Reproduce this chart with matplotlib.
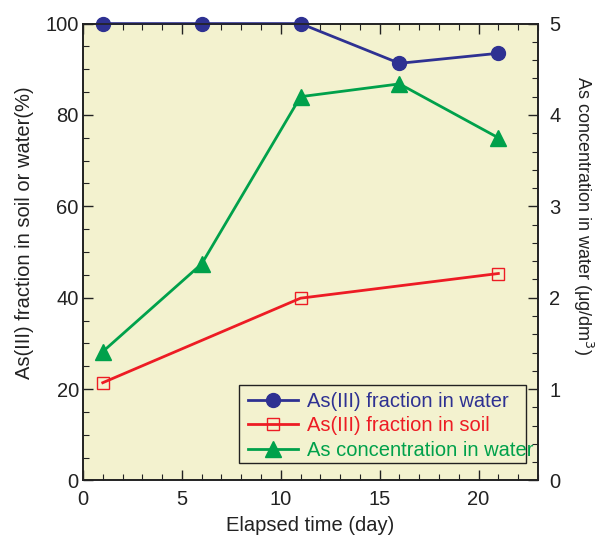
import matplotlib
matplotlib.use("Agg")
import matplotlib.pyplot as plt
from matplotlib.patches import Rectangle
from matplotlib.ticker import MultipleLocator

plt.rcParams['font.family'] = ['Liberation Sans', 'DejaVu Sans']

# data
days = [1, 6, 11, 16, 21]
water_fraction = [100, 100, 100, 91.3, 93.5]
soil_days = [1, 11, 21]
soil_fraction = [21.4, 39.9, 45.3]
concentration = [1.41, 2.37, 4.20, 4.34, 3.75]

blue = '#2e3192'
red = '#ed1c24'
green = '#00a14b'
bg = '#f3f2cf'
ink = '#222222'

fig = plt.figure(figsize=(5.97, 5.42), dpi=100)
ax = fig.add_axes([0.139, 0.1135, 0.762, 0.843])
ax.set_facecolor(bg)
ax2 = ax.twinx()

l1, = ax.plot(days, water_fraction, color=blue, lw=2, marker='o', ms=10,
              label='As(III) fraction in water', clip_on=False, zorder=5)
l2, = ax.plot(soil_days, soil_fraction, color=red, lw=2, marker='s', ms=9,
              mfc='none', mec=red, mew=1, label='As(III) fraction in soil', zorder=4)
l3, = ax2.plot(days, concentration, color=green, lw=2, marker='^', ms=11,
               label='As concentration in water', zorder=4)

ax.set_xlim(0, 23)
ax.set_ylim(0, 100)
ax2.set_ylim(0, 5)
ax.xaxis.set_major_locator(MultipleLocator(5))
ax.xaxis.set_minor_locator(MultipleLocator(1))
ax.yaxis.set_major_locator(MultipleLocator(20))
ax.yaxis.set_minor_locator(MultipleLocator(5))
ax2.yaxis.set_major_locator(MultipleLocator(1))
ax2.yaxis.set_minor_locator(MultipleLocator(0.2))

for a in (ax, ax2):
    a.tick_params(which='both', direction='in', labelsize=14.5, color=ink, labelcolor=ink)
    a.tick_params(which='major', length=7, width=1)
    a.tick_params(which='minor', length=4, width=0.8)
    for s in a.spines.values():
        s.set_linewidth(1.2)
        s.set_color(ink)
ax.tick_params(which='both', top=True, right=False)
ax.tick_params(axis='x', pad=7)
ax.tick_params(axis='y', pad=3)
ax2.tick_params(axis='y', pad=8)

ax.set_xlabel('Elapsed time (day)', fontsize=14.5, labelpad=5, color=ink)
ax.set_ylabel('As(III) fraction in soil or water(%)', fontsize=14.5, color=ink)
ax.yaxis.set_label_coords(-0.108, 0.542)
ax2.set_ylabel('As concentration in water (\u03bcg/dm$^3$)', fontsize=13,
               rotation=270, color=ink, va='center')
ax2.yaxis.set_label_coords(1.1, 0.579)

# legend box is narrower than its text in the original
ax2.add_patch(Rectangle((0.343, 0.038), 0.630, 0.171, transform=ax.transAxes,
                        facecolor=bg, edgecolor=ink, lw=1, zorder=9))
leg = ax2.legend(handles=[l1, l2, l3], loc='upper left', bbox_to_anchor=(0.363, 0.194),
                 fontsize=14.5, frameon=False, handlelength=2.5,
                 borderpad=0, labelspacing=0.27, handletextpad=0.4, borderaxespad=0)
for txt, c in zip(leg.get_texts(), [blue, red, green]):
    txt.set_color(c)
leg.set_zorder(10)

fig.savefig('out.png', dpi=100)
